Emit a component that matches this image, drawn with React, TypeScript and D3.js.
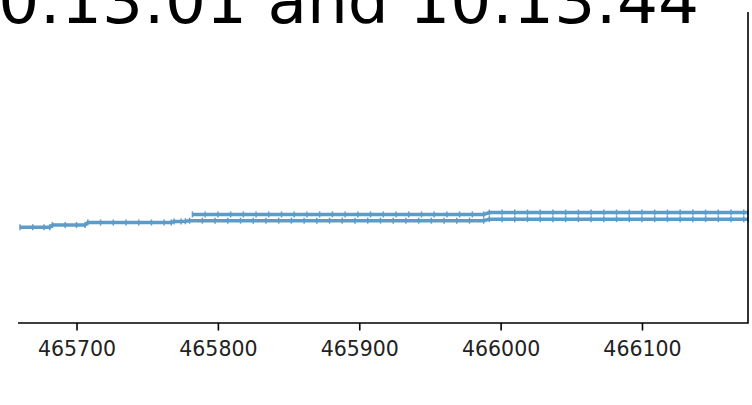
import React, { useEffect, useRef } from 'react';
import * as d3 from 'd3';

// easting / northing samples for the two tracks
const eastingA = [
  465660, 465669, 465677, 465681, 465683, 465692, 465700, 465706, 465708, 465717,
  465726, 465735, 465744, 465753, 465762, 465767, 465769, 465774, 465777,
  465780, 465789, 465798, 465807, 465816, 465825, 465834, 465843, 465852, 465861,
  465870, 465879, 465888, 465897, 465906, 465915, 465924, 465933, 465942, 465951,
  465960, 465969, 465978, 465988,
  465992, 466001, 466010, 466019, 466028, 466037, 466046, 466055, 466064, 466073,
  466082, 466091, 466100, 466109, 466118, 466127, 466136, 466145, 466154, 466163,
  466172, 466175,
];
const northingA = [
  30.8, 30.8, 30.8, 30.8, 31.5, 31.5, 31.5, 31.5, 32.3, 32.3,
  32.3, 32.3, 32.3, 32.3, 32.3, 32.3, 32.6, 32.6, 32.7,
  32.9, 32.9, 32.9, 32.9, 32.9, 32.9, 32.9, 32.9, 32.9, 32.9,
  32.9, 32.9, 32.9, 32.9, 32.9, 32.9, 32.9, 32.9, 32.9, 32.9,
  32.9, 32.9, 32.9, 32.9,
  33.4, 33.4, 33.4, 33.4, 33.4, 33.4, 33.4, 33.4, 33.4, 33.4,
  33.4, 33.4, 33.4, 33.4, 33.4, 33.4, 33.4, 33.4, 33.4, 33.4,
  33.4, 33.4,
];
const eastingB = [
  465782, 465791, 465800, 465809, 465818, 465827, 465836, 465845, 465854, 465863,
  465872, 465881, 465890, 465899, 465908, 465917, 465926, 465935, 465944, 465953,
  465962, 465971, 465980, 465988,
  465992, 466001, 466010, 466019, 466028, 466037, 466046, 466055, 466064, 466073,
  466082, 466091, 466100, 466109, 466118, 466127, 466136, 466145, 466154, 466163,
  466172, 466175,
];
const northingB = [
  34.9, 34.9, 34.9, 34.9, 34.9, 34.9, 34.9, 34.9, 34.9, 34.9,
  34.9, 34.9, 34.9, 34.9, 34.9, 34.9, 34.9, 34.9, 34.9, 34.9,
  34.9, 34.9, 34.9, 34.9,
  35.5, 35.5, 35.5, 35.5, 35.5, 35.5, 35.5, 35.5, 35.5, 35.5,
  35.5, 35.5, 35.5, 35.5, 35.5, 35.5, 35.5, 35.5, 35.5, 35.5,
  35.5, 35.5,
];
const xTicks = [465700, 465800, 465900, 466000, 466100];
const title = '10:13:01 and 10:13:44';

function App() {
  const ref = useRef<SVGSVGElement | null>(null);

  useEffect(() => {
    const svg = d3.select(ref.current);
    svg.selectAll('*').remove();

    const left = 18, right = 748, top = 12, bottom = 323;

    const x = d3.scaleLinear().domain([465658.6, 466175]).range([left, right]);
    const y = d3.scaleLinear().domain([0, 100]).range([bottom, top]);

    const color = '#1f77b4';

    const series = [
      { xs: eastingA, ys: northingA },
      { xs: eastingB, ys: northingB },
    ];

    const line = d3.line<[number, number]>()
      .x(d => x(d[0]))
      .y(d => y(d[1]));

    series.forEach(s => {
      const pts: [number, number][] = s.xs.map((v, i) => [v, s.ys[i]]);
      const g = svg.append('g').attr('opacity', 0.72);
      g.append('path')
        .datum(pts)
        .attr('d', line)
        .attr('fill', 'none')
        .attr('stroke', color)
        .attr('stroke-width', 3.5);
      // small tick markers at each sample
      g.selectAll('path.m')
        .data(pts)
        .enter()
        .append('path')
        .attr('class', 'm')
        .attr('d', d => {
          const cx = x(d[0]), cy = y(d[1]);
          return `M${cx},${cy - 3}V${cy + 3}`;
        })
        .attr('stroke', color)
        .attr('stroke-width', 1.5);
    });

    // bottom axis
    const axis = svg.append('g')
      .attr('transform', `translate(0,${bottom})`)
      .call(d3.axisBottom(x).tickValues(xTicks).tickFormat(d3.format('d')).tickSize(7.5).tickPadding(11));
    axis.select('.domain').remove();
    axis.selectAll('line').attr('stroke', '#000').attr('stroke-width', 1.6);
    axis.selectAll('text')
      .attr('font-family', 'DejaVu Sans, sans-serif')
      .attr('font-size', 20.5)
      .attr('fill', '#222');

    // spines (bottom + right only)
    svg.append('path')
      .attr('d', `M${left},${bottom}H${right}V${top}`)
      .attr('fill', 'none')
      .attr('stroke', '#000')
      .attr('stroke-width', 1.6);

    svg.append('text')
      .attr('x', 699)
      .attr('y', 22.5)
      .attr('text-anchor', 'end')
      .attr('font-family', 'DejaVu Sans, sans-serif')
      .attr('font-size', 64.5)
      .attr('fill', '#000')
      .text(title);
  }, []);

  return (
    <svg
      ref={ref}
      width={752}
      height={405}
      style={{ position: 'absolute', left: 0, top: 0, background: '#fff' }}
    />
  );
}

export default App;
